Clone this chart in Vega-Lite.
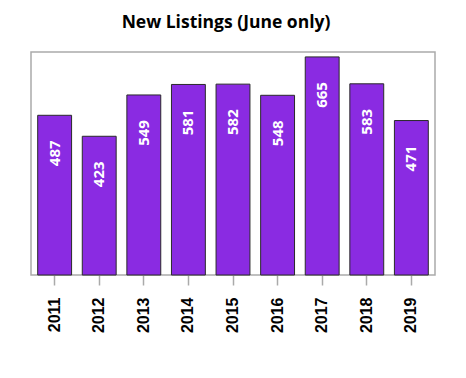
{
  "$schema": "https://vega.github.io/schema/vega-lite/v6.json",
  "width": 404,
  "height": 223,
  "autosize": {"type": "none"},
  "padding": {"left": 31, "top": 52, "right": 31, "bottom": 103},
  "background": "white",
  "title": {
    "text": "New Listings (June only)",
    "font": "Open Sans",
    "fontSize": 17.5,
    "fontWeight": "bold",
    "color": "#000000",
    "anchor": "middle",
    "dx": -7,
    "offset": 21
  },
  "config": {
    "view": {"stroke": "#aaaaaa", "strokeWidth": 1.5}
  },
  "data": {
    "values": [
      {"year": "2011", "listings": 487},
      {"year": "2012", "listings": 423},
      {"year": "2013", "listings": 549},
      {"year": "2014", "listings": 581},
      {"year": "2015", "listings": 582},
      {"year": "2016", "listings": 548},
      {"year": "2017", "listings": 665},
      {"year": "2018", "listings": 583},
      {"year": "2019", "listings": 471}
    ]
  },
  "encoding": {
    "x": {
      "field": "year",
      "type": "ordinal",
      "scale": {"paddingInner": 0.24, "paddingOuter": 0.15},
      "axis": {
        "title": null,
        "labelAngle": -90,
        "labelFont": "Liberation Sans",
        "labelFontSize": 16,
        "labelFontWeight": "bold",
        "labelColor": "#000000",
        "labelPadding": 12,
        "tickColor": "#aaaaaa",
        "tickSize": 10,
        "tickWidth": 1.5,
        "domain": false
      }
    },
    "y": {
      "field": "listings",
      "type": "quantitative",
      "scale": {"domain": [0, 680], "nice": false},
      "axis": null
    }
  },
  "layer": [
    {
      "mark": {"type": "bar", "color": "#8a2be2", "stroke": "#2a2a2a", "strokeWidth": 1}
    },
    {
      "mark": {
        "type": "text",
        "angle": -90,
        "align": "center",
        "baseline": "middle",
        "yOffset": 38,
        "font": "Open Sans",
        "fontSize": 15,
        "fontWeight": "bold",
        "color": "white"
      },
      "encoding": {"text": {"field": "listings", "type": "quantitative"}}
    }
  ]
}
